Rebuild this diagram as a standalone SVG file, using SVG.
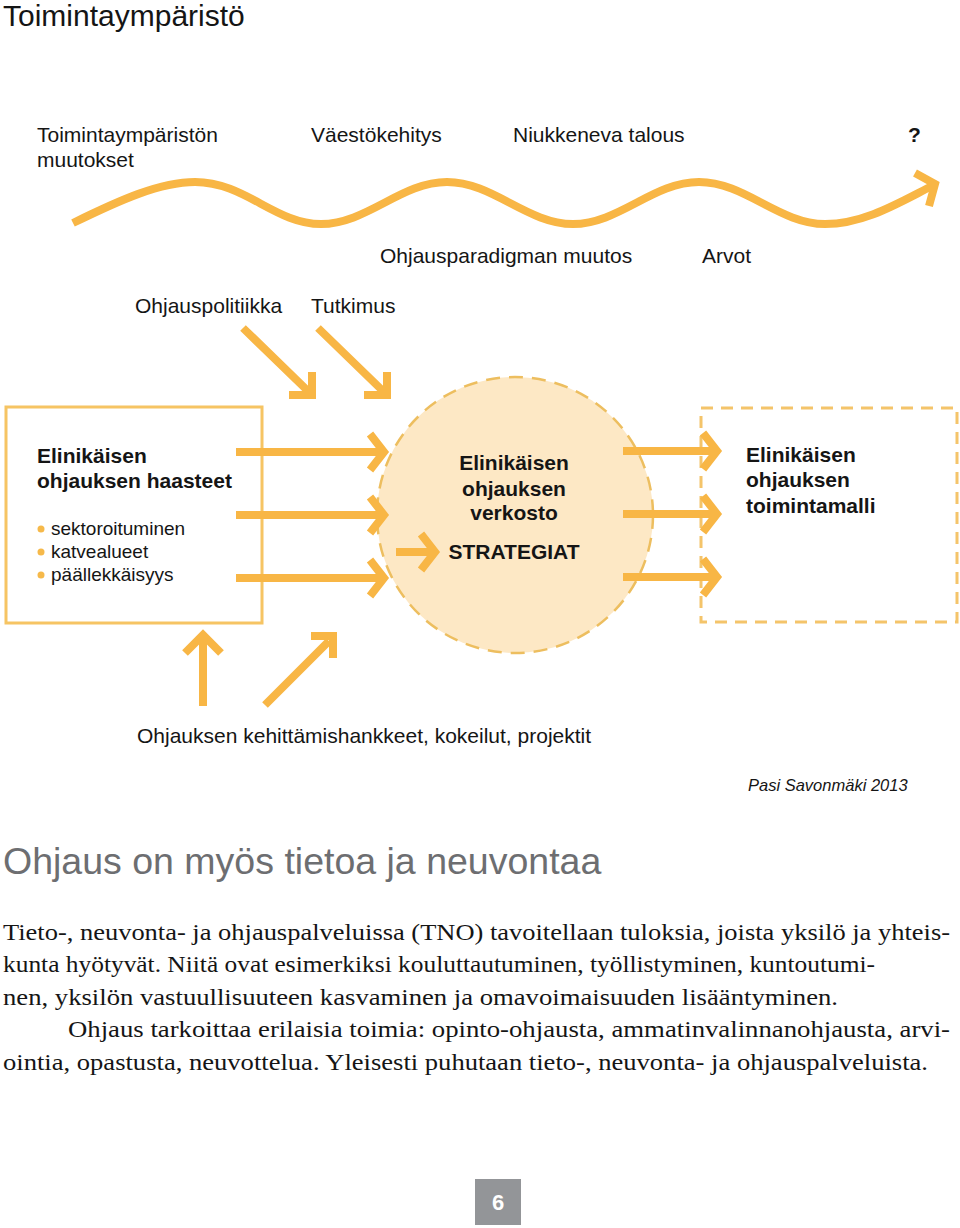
<svg xmlns="http://www.w3.org/2000/svg" width="960" height="1228" viewBox="0 0 960 1228">
<style>
.sans{font-family:"Liberation Sans",Arial,sans-serif;fill:#151515}
.lbl{font-size:21px}
.bold{font-weight:bold;font-size:21px}
.bul{font-size:19px}
.arr{fill:none;stroke:#F8B645;stroke-width:8;stroke-linecap:butt;stroke-linejoin:miter}
.body{font-family:"Liberation Serif","Times New Roman",serif;font-size:23.5px;fill:#151515}
</style>
<rect width="960" height="1228" fill="#ffffff"/>
<text id="title" class="sans" x="3" y="26" font-size="30">Toimintaympäristö</text>

<g id="labels" class="sans lbl">
<text x="37" y="142">Toimintaympäristön</text>
<text x="37" y="167">muutokset</text>
<text x="311" y="142">Väestökehitys</text>
<text x="513" y="142">Niukkeneva talous</text>
<text x="908" y="142" font-weight="bold">?</text>
<text x="380" y="263">Ohjausparadigman muutos</text>
<text x="702" y="263">Arvot</text>
<text x="135" y="313">Ohjauspolitiikka</text>
<text x="311" y="313">Tutkimus</text>
</g>

<g id="node-haasteet">
<rect x="6" y="407" width="256" height="216" fill="#ffffff" stroke="#F6C463" stroke-width="3"/>
<text class="sans bold" x="37" y="463">Elinikäisen</text>
<text class="sans bold" x="37" y="488">ohjauksen haasteet</text>
<g fill="#F6B94A"><circle cx="41" cy="529" r="3.5"/><circle cx="41" cy="552" r="3.5"/><circle cx="41" cy="575" r="3.5"/></g>
<text class="sans bul" x="51" y="535">sektoroituminen</text>
<text class="sans bul" x="51" y="558">katvealueet</text>
<text class="sans bul" x="51" y="581">päällekkäisyys</text>
</g>

<g id="node-verkosto">
<circle cx="515" cy="515" r="138" fill="#FDE8C5" stroke="#EDBE5F" stroke-width="2.5" stroke-dasharray="14 9"/>
<g class="sans bold" text-anchor="middle">
<text x="514" y="470">Elinikäisen</text>
<text x="514" y="496">ohjauksen</text>
<text x="514" y="520">verkosto</text>
<text x="514" y="559">STRATEGIAT</text>
</g>
</g>

<g id="node-toimintamalli">
<rect x="701" y="408" width="256" height="214" fill="none" stroke="#F4C46A" stroke-width="3" stroke-dasharray="12 8"/>
<text class="sans bold" x="746" y="462">Elinikäisen</text>
<text class="sans bold" x="746" y="487">ohjauksen</text>
<text class="sans bold" x="746" y="513">toimintamalli</text>
</g>

<g id="connectors" class="arr">
<path d="M73,223 C120,200 160,182 195,182 C245,182 275,224 321,224 C367,224 401,182 447,182 C493,182 527,224 573,224 C619,224 653,182 699,182 C745,182 779,224 825,224 C865,224 900,202 934,185"/>
<path d="M915,173 L935,184 L929,206"/>
<path d="M243,328 L310,393 M312,372 L312,395 L289,395"/>
<path d="M318,328 L385,393 M387,372 L387,395 L364,395"/>
<path d="M236,452 H380 M370,434 L384,452 L370,470"/>
<path d="M236,515 H380 M370,497 L384,515 L370,533"/>
<path d="M236,578 H380 M370,560 L384,578 L370,596"/>
<path d="M396,552 H430 M421,534 L435,552 L421,570"/>
<path d="M623,451 H714 M703,433 L717,451 L703,469"/>
<path d="M623,514 H714 M703,496 L717,514 L703,532"/>
<path d="M623,577 H714 M703,559 L717,577 L703,595"/>
<path d="M203,706 V638 M185,653 L203,635 L221,653"/>
<path d="M265,705 L329,641 M311,636 L333,636 L333,658"/>
</g>

<text id="projektit" class="sans" font-size="21" x="137" y="743">Ohjauksen kehittämishankkeet, kokeilut, projektit</text>
<text id="credit" class="sans" font-size="16.5" font-style="italic" x="748" y="791">Pasi Savonmäki 2013</text>

<text id="heading" font-family="Liberation Sans, Arial, sans-serif" font-size="37.5" fill="#6D6E71" x="3" y="874">Ohjaus on myös tietoa ja neuvontaa</text>

<g id="paragraph" class="body">
<text x="3" y="940" textLength="947" lengthAdjust="spacingAndGlyphs">Tieto-, neuvonta- ja ohjauspalveluissa (TNO) tavoitellaan tuloksia, joista yksilö ja yhteis-</text>
<text x="3" y="972" textLength="872" lengthAdjust="spacingAndGlyphs">kunta hyötyvät. Niitä ovat esimerkiksi kouluttautuminen, työllistyminen, kuntoutumi-</text>
<text x="3" y="1005" textLength="835" lengthAdjust="spacingAndGlyphs">nen, yksilön vastuullisuuteen kasvaminen ja omavoimaisuuden lisääntyminen.</text>
<text x="68" y="1037" textLength="882" lengthAdjust="spacingAndGlyphs">Ohjaus tarkoittaa erilaisia toimia: opinto-ohjausta, ammatinvalinnanohjausta, arvi-</text>
<text x="3" y="1070" textLength="925" lengthAdjust="spacingAndGlyphs">ointia, opastusta, neuvottelua. Yleisesti puhutaan tieto-, neuvonta- ja ohjauspalveluista.</text>
</g>

<g id="page-number">
<rect x="475" y="1179" width="46" height="46" fill="#939598"/>
<text x="498" y="1210" text-anchor="middle" font-family="Liberation Sans, Arial, sans-serif" font-weight="bold" font-size="22" fill="#ffffff">6</text>
</g>
</svg>
